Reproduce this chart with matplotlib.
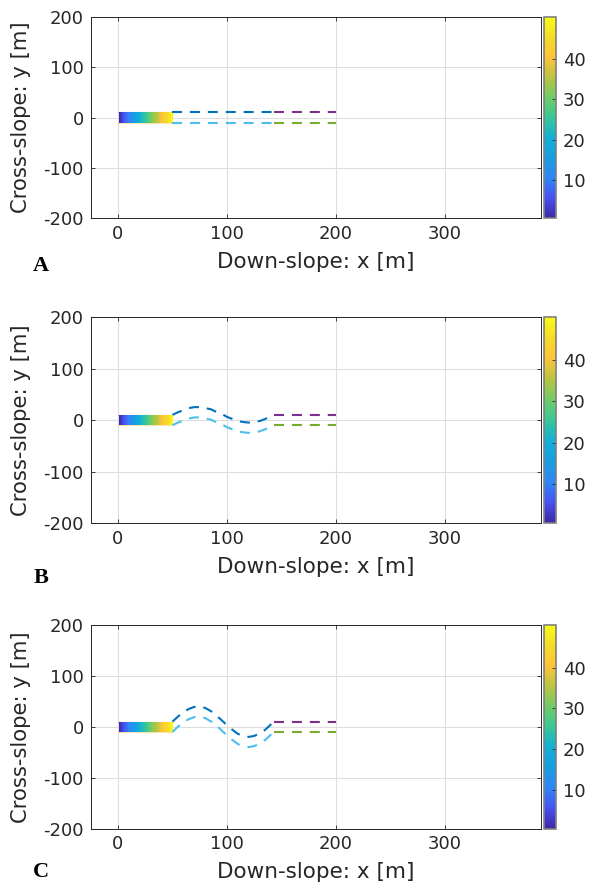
import numpy as np
import matplotlib
matplotlib.use("Agg")
import matplotlib.pyplot as plt
from matplotlib.colors import LinearSegmentedColormap

plt.rcParams["font.family"] = ["DejaVu Sans"]
plt.rcParams["axes.unicode_minus"] = False

# ── data ────────────────────────────────────────────────────────────────────
panel_labels = ["A", "B", "C"]

# coloured release block: one cell per index, coloured by index
cell_idx = np.arange(1, 51)
block_half_width = 10

# meander path (down-slope positions)
path_x = [50, 55, 60, 65, 70, 75, 80, 85, 90, 95, 100, 105, 110, 115,
          120, 125, 130, 135, 140, 143]

top_A = [10] * 20
bot_A = [-10] * 20
top_B = [10, 15, 19, 23, 25, 25, 23, 21, 16, 12, 6, 2, -2, -4, -5, -4, -2, 2, 7, 10]
bot_B = [-10, -5, -1, 3, 5, 5, 3, 1, -4, -8, -14, -18, -22, -24, -25, -24, -22, -18, -13, -10]
top_C = [10, 20, 29, 35, 39, 40, 37, 31, 23, 13, 3, -6, -14, -18, -20, -18, -13, -6, 4, 10]
bot_C = [-10, 0, 9, 15, 19, 20, 17, 11, 3, -7, -17, -26, -34, -38, -40, -38, -33, -26, -16, -10]

tops = [top_A, top_B, top_C]
bots = [bot_A, bot_B, bot_C]

# straight outlet channel
tail_x = [143, 200]
tail_top = [10, 10]
tail_bot = [-10, -10]

# block edges underneath the cells
block_x = [0, 50]

xticks = [0, 100, 200, 300]
yticks = [-200, -100, 0, 100, 200]
cticks = [10, 20, 30, 40]

# parula (approximate)
parula_rgb = [
    (0.2422, 0.1504, 0.6603), (0.2810, 0.3228, 0.9579), (0.1786, 0.5289, 0.9682),
    (0.0900, 0.6200, 0.8900), (0.0689, 0.6948, 0.8394), (0.2161, 0.7843, 0.5923),
    (0.4400, 0.8000, 0.4000), (0.7300, 0.7700, 0.2500), (0.9970, 0.7659, 0.2199),
    (0.9600, 0.8600, 0.1500), (0.9769, 0.9839, 0.0805),
]
parula = LinearSegmentedColormap.from_list("parula", parula_rgb)

c_blue = (0.0, 0.447, 0.741)
c_orange = (0.850, 0.325, 0.098)
c_yellow = (0.929, 0.694, 0.125)
c_purple = (0.494, 0.184, 0.556)
c_green = (0.466, 0.674, 0.188)
c_cyan = (0.301, 0.745, 0.933)
ink = "#262626"
dash = (0, (4.8, 3.8))

# ── layout (pixel boxes from the reference) ─────────────────────────────────
W, H = 591, 888
ax_left, ax_right = 90.7, 541.0
cb_left, cb_right = 543.5, 556.0
ax_tops = [17, 317, 625]
ax_bots = [218, 523, 828.5]
letter_y = [266, 578, 872]
xlabel_y = [262, 567, 872]
ylabel_x = 21

fig = plt.figure(figsize=(W / 100, H / 100), dpi=100)

for i in range(3):
    y0 = 1 - ax_bots[i] / H
    hpx = ax_bots[i] - ax_tops[i]
    wpx = ax_right - ax_left
    ax = fig.add_axes([ax_left / W, y0, wpx / W, hpx / H])
    cax = fig.add_axes([cb_left / W, y0, (cb_right - cb_left) / W, hpx / H])

    ax.plot(block_x, [block_half_width] * 2, color=c_orange, lw=0.9,
            alpha=0.35, zorder=2)
    ax.plot(block_x, [-block_half_width] * 2, color=c_yellow, lw=0.9,
            alpha=0.35, zorder=2)

    xe = np.append(cell_idx - 0.5, cell_idx[-1] + 0.5)
    ye = [-block_half_width, block_half_width]
    mesh = ax.pcolormesh(xe, ye, cell_idx[np.newaxis, :], cmap=parula,
                         vmin=0.5, vmax=50.5, zorder=3)

    ax.plot(path_x, tops[i], color=c_blue, lw=1.5, ls=dash, zorder=4)
    ax.plot(path_x, bots[i], color=c_cyan, lw=1.5, ls=dash, zorder=4)
    ax.plot(tail_x, tail_top, color=c_purple, lw=1.5, ls=dash, zorder=4)
    ax.plot(tail_x, tail_bot, color=c_green, lw=1.5, ls=dash, zorder=4)

    ax.set_xlim(-25, 388)
    ax.set_ylim(-200, 200)
    ax.set_xticks(xticks)
    ax.set_yticks(yticks)
    ax.grid(True, color="#dedede", lw=0.8)
    ax.set_axisbelow(True)
    ax.tick_params(direction="in", length=3.2, width=0.6, color=ink,
                   top=True, right=True, labelsize=13, labelcolor=ink, pad=5)
    for s in ax.spines.values():
        s.set_color(ink)
        s.set_linewidth(0.7)

    xl = ax.set_xlabel("Down-slope: x [m]", fontsize=15.5, color=ink)
    xl.set_va("center")
    ax.xaxis.set_label_coords(0.5, -(xlabel_y[i] - ax_bots[i]) / hpx)
    yl = ax.set_ylabel("Cross-slope: y [m]", fontsize=15.2, color=ink)
    yl.set_va("center")
    ax.yaxis.set_label_coords(-(ax_left - ylabel_x) / wpx, 0.5)

    cb = fig.colorbar(mesh, cax=cax, ticks=cticks)
    cb.outline.set_edgecolor("#808080")
    cb.outline.set_linewidth(1.2)
    cax.tick_params(direction="in", length=3, width=0.6, color=ink,
                    labelsize=13, labelcolor=ink, pad=5)

    fig.text(41 / W, 1 - letter_y[i] / H, panel_labels[i], fontsize=16,
             fontweight="bold", family="Liberation Serif",
             ha="center", va="center")

fig.savefig("out.png", dpi=100)
